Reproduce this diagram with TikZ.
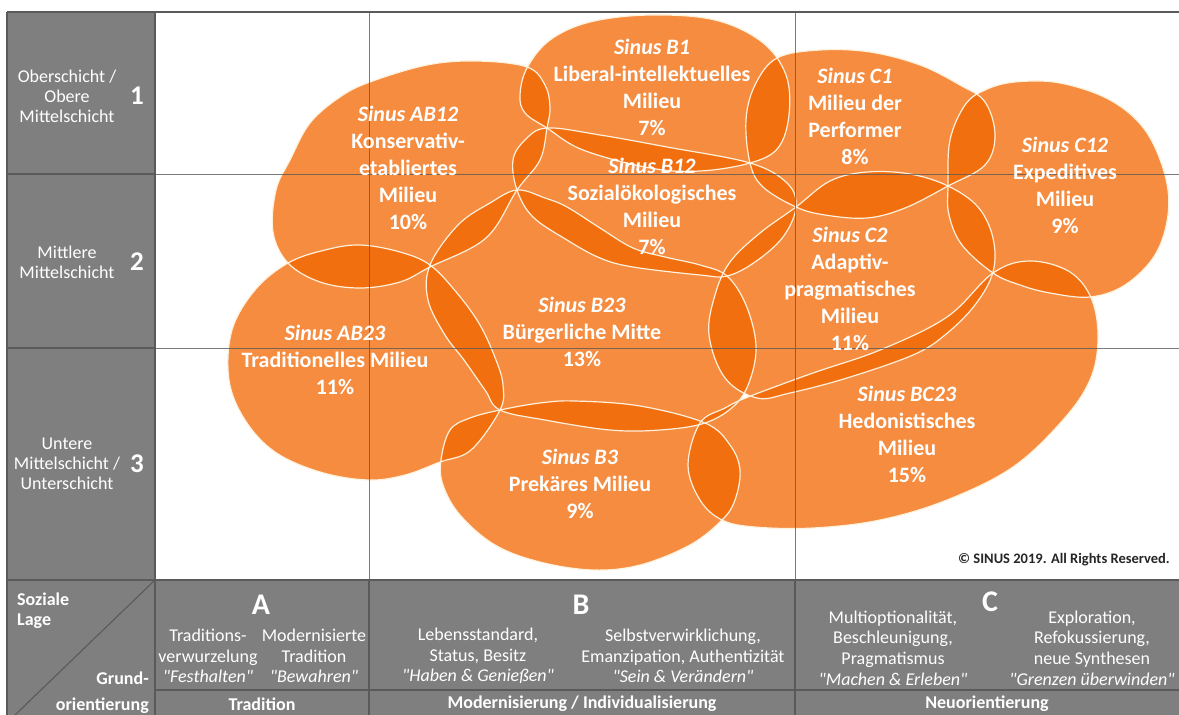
\documentclass[tikz,border=0pt]{standalone}
\usepackage{fontspec}
\setmainfont{Carlito}[Ligatures=TeXOff]
\definecolor{panel}{HTML}{7F7F7F}
\definecolor{rule}{HTML}{5A5A5A}
\definecolor{blob}{RGB}{242,102,0}
\definecolor{rim}{HTML}{FFF1DC}
\newcommand{\milieushapes}[1]{%
% AB12
\path[#1] plot[smooth cycle,tension=0.6] coordinates {(288,263) (273,232) (276,190) (290,160) (310,123) (340,97) (370,82) (427,65) (477,61) (527,67) (545,85) (550,107) (547,128) (540,160) (517,190) (486,238) (430,267) (400,282) (360,288) (320,282)};
% B1
\path[#1] plot[smooth cycle,tension=0.6] coordinates {(547,128) (525,113) (520,95) (527,68) (550,40) (590,22) (650,15) (715,20) (762,42) (786,75) (789,115) (778,148) (750,163) (700,171) (650,168) (583,150)};
% C1
\path[#1] plot[smooth cycle,tension=0.6] coordinates {(750,163) (746,120) (755,85) (777,58) (820,50) (870,52) (920,65) (960,85) (985,102) (995,135) (985,165) (948,186) (905,208) (867,218) (825,215) (796,207) (763,187)};
% C12
\path[#1] plot[smooth cycle,tension=0.6] coordinates {(948,186) (950,140) (965,105) (985,90) (1015,82) (1060,83) (1110,100) (1145,130) (1165,175) (1168,215) (1155,255) (1125,285) (1090,297) (1050,293) (1020,285) (993,273) (962,245) (949,215)};
% B12
\path[#1] plot[smooth cycle,tension=0.6] coordinates {(547,128) (600,135) (667,147) (750,163) (787,183) (796,207) (783,237) (755,262) (727,276) (700,275) (633,267) (600,258) (567,240) (533,217) (517,190) (513,160) (525,140)};
% C2
\path[#1] plot[smooth cycle,tension=0.6] coordinates {(796,207) (830,181) (867,172) (910,174) (948,186) (978,207) (993,238) (993,272) (975,305) (945,335) (913,355) (847,378) (790,393) (757,398) (725,378) (709,335) (715,295) (730,262) (760,233)};
% B23
\path[#1] plot[smooth cycle,tension=0.6] coordinates {(517,190) (545,198) (567,207) (600,228) (633,248) (665,257) (700,265) (727,276) (746,305) (756,345) (750,380) (735,405) (705,423) (660,430) (610,430) (545,420) (500,410) (485,390) (464,360) (445,335) (428,300) (430,265) (458,225) (490,203)};
% AB23
\path[#1] plot[smooth cycle,tension=0.6] coordinates {(288,263) (325,250) (360,245) (400,252) (430,265) (457,293) (480,325) (496,360) (503,385) (500,410) (471,450) (440,462) (405,475) (368,480) (320,472) (275,452) (245,420) (229,380) (232,330) (255,290)};
% B3
\path[#1] plot[smooth cycle,tension=0.6] coordinates {(500,410) (540,403) (575,401) (640,406) (705,423) (730,445) (740,470) (735,500) (722,520) (690,545) (640,565) (593,570) (540,562) (495,545) (460,515) (443,485) (441,460) (450,430) (470,418)};
% BC23
\path[#1] plot[smooth cycle,tension=0.6] coordinates {(700,423) (725,408) (748,397) (813,373) (880,350) (947,317) (993,273) (1030,261) (1070,272) (1092,300) (1098,340) (1090,380) (1063,420) (1013,467) (947,500) (880,520) (813,528) (755,527) (722,520) (700,500) (688,465)};
}
\begin{document}
\begin{tikzpicture}[x=1pt,y=-1pt,
  blobfill/.style={fill=blob,fill opacity=0.75},
  rimline/.style={draw=rim,line width=1.2pt},
  gridline/.style={draw=rule,line width=1.1pt},
  chartline/.style={draw=rule,line width=1pt,draw opacity=0.8},
  mil/.style={text=white,align=center,inner sep=0pt,font=\fontsize{22}{27}\selectfont\bfseries},
  side/.style={text=white,align=center,inner sep=0pt,font=\fontsize{18}{20}\selectfont},
  bignum/.style={text=white,inner sep=0pt,font=\fontsize{27}{27}\selectfont\bfseries},
  bigletter/.style={text=white,inner sep=0pt,font=\fontsize{30}{30}\selectfont\bfseries},
  desc/.style={text=white,align=center,inner sep=0pt,font=\fontsize{18}{20.6}\selectfont},
  axis/.style={text=white,inner sep=0pt,font=\fontsize{18}{20}\selectfont\bfseries}]
\useasboundingbox (0,0) rectangle (1179,715);
\fill[white] (0,0) rectangle (1179,715);
\fill[panel] (7,12) rectangle (155,580);
\fill[panel] (7,580) rectangle (1179,715);
% milieu blobs
\milieushapes{blobfill}
\milieushapes{rimline}
% grid
\path[chartline] (155,174) -- (1179,174) (155,348) -- (1179,348)
  (369,12) -- (369,580) (795,12) -- (795,580);
\path[gridline] (7,12) -- (1179,12) (7,12) -- (7,715) (155,12) -- (155,715)
  (7,174) -- (155,174) (7,348) -- (155,348) (7,580) -- (1179,580)
  (155,690) -- (1179,690) (369,580) -- (369,715) (795,580) -- (795,715);
\coordinate (dg1) at (155,580);
\coordinate (dg2) at (15,715);
\draw[gridline] (dg1) -- (dg2);
% left column
\node[side] (r1) at (67,96) {Oberschicht /\\Obere\\Mittelschicht};
\node[bignum] (n1) at (137,96) {1};
\node[side] (r2) at (67,262) {Mittlere\\Mittelschicht};
\node[bignum] (n2) at (137,262) {2};
\node[side] (r3) at (67,464) {Untere\\Mittelschicht /\\Unterschicht};
\node[bignum] (n3) at (137,464) {3};
% milieu labels
\node[mil] (mAB12) at (408,168) {\textit{Sinus AB12}\\Konservativ-\\etabliertes\\Milieu\\10\%};
\node[mil] (mB1) at (652,87) {\textit{Sinus B1}\\Liberal-intellektuelles\\Milieu\\7\%};
\node[mil] (mC1) at (855,116) {\textit{Sinus C1}\\Milieu der\\Performer\\8\%};
\node[mil] (mC12) at (1065,185) {\textit{Sinus C12}\\Expeditives\\Milieu\\9\%};
\node[mil] (mB12) at (652,206) {\textit{Sinus B12}\\Sozialökologisches\\Milieu\\7\%};
\node[mil] (mC2) at (850,289) {\textit{Sinus C2}\\Adaptiv-\\pragmatisches\\Milieu\\11\%};
\node[mil] (mB23) at (582,332) {\textit{Sinus B23}\\Bürgerliche Mitte\\13\%};
\node[mil] (mAB23) at (335,360) {\textit{Sinus AB23}\\Traditionelles Milieu\\11\%};
\node[mil] (mBC23) at (907,434) {\textit{Sinus BC23}\\Hedonistisches\\Milieu\\15\%};
\node[mil] (mB3) at (580,484) {\textit{Sinus B3}\\Prekäres Milieu\\9\%};
\node[anchor=east,inner sep=0pt,text=black!85,font=\fontsize{14.5}{15}\selectfont\bfseries] (copy) at (1170,560) {© SINUS 2019. All Rights Reserved.};
% bottom band
\node[anchor=north west,align=left,inner sep=0pt,text=white,font=\fontsize{18}{20}\selectfont\bfseries] (soz) at (17,593) {Soziale\\Lage};
\node[anchor=east,align=right,inner sep=0pt,text=white,font=\fontsize{18}{26}\selectfont\bfseries] (grund) at (149,693) {Grund-\\orientierung};
\node[bigletter] (lA) at (261,605) {A};
\node[bigletter] (lB) at (581,605) {B};
\node[bigletter] (lC) at (990,602) {C};
\node[desc] (a1) at (208,656) {Traditions-\\verwurzelung\\\textit{"Festhalten"}};
\node[desc] (a2) at (314,656) {Modernisierte\\Tradition\\\textit{"Bewahren"}};
\node[desc] (b1) at (478,656) {Lebensstandard,\\Status, Besitz\\\textit{"Haben \& Genießen"}};
\node[desc] (b2) at (683,656) {Selbstverwirklichung,\\Emanzipation, Authentizität\\\textit{"Sein \& Verändern"}};
\node[desc] (c1) at (893,648) {Multioptionalität,\\Beschleunigung,\\Pragmatismus\\\textit{"Machen \& Erleben"}};
\node[desc] (c2) at (1092,648) {Exploration,\\Refokussierung,\\neue Synthesen\\\textit{"Grenzen überwinden"}};
\node[axis] (tA) at (262,704) {Tradition};
\node[axis] (tB) at (582,704) {Modernisierung / Individualisierung};
\node[axis] (tC) at (987,704) {Neuorientierung};
\end{tikzpicture}
\end{document}
